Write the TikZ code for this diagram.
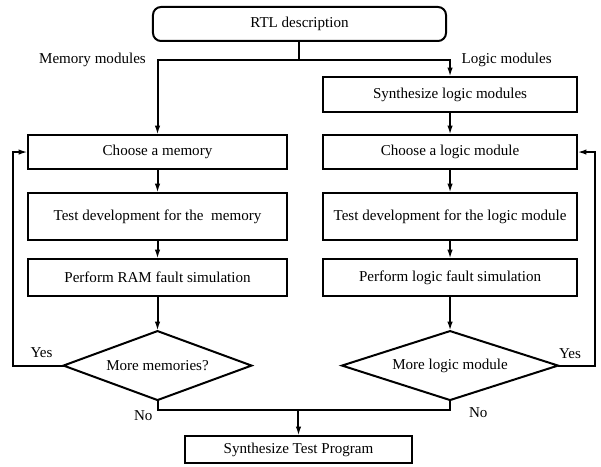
\documentclass[tikz,border=0pt]{standalone}
\usepackage{fontspec}
\setmainfont{Liberation Serif}
\usetikzlibrary{positioning,shapes.geometric,arrows.meta}

\begin{document}
\begin{tikzpicture}[
    font=\fontsize{11.3}{13}\selectfont,
    line width=1.5pt,
    >={Latex[length=7pt,width=4pt]},
    base/.style={rectangle,draw,inner sep=2pt,outer sep=0pt},
    roundbox/.style={base,rounded corners=6pt,minimum width=219.75pt,minimum height=25.5pt},
    leftbox/.style={base,minimum width=194.25pt},
    rightbox/.style={base,minimum width=190.5pt},
    decision/.style={diamond,draw,aspect=3,inner sep=1pt,outer sep=0pt,minimum height=51.75pt},
    lbl/.style={inner sep=2pt}
  ]
  \useasboundingbox (-224.6pt,18pt) rectangle (226.1pt,-331.5pt);

  \node(rtl) [roundbox] {RTL description};
  \coordinate[below=14.25pt of rtl.south] (split);

  % logic column
  \node(sl) [rightbox,minimum height=26.25pt] at (112.9pt,-52.9pt) {Synthesize logic modules};
  \node(cl) [rightbox,minimum height=25.5pt,below=17.25pt of sl] {Choose a logic module};
  \node(tl) [rightbox,minimum height=35.25pt,below=18pt of cl] {Test development for the logic module};
  \node(pl) [rightbox,minimum height=27.75pt,below=14.25pt of tl] {Perform logic fault simulation};
  \node(dl) [decision,minimum width=162pt,below=26.25pt of pl] {More logic module};

  % memory column
  \node(cm) [leftbox,minimum height=25.5pt,left=27pt of cl] {Choose a memory};
  \node(tm) [leftbox,minimum height=35.25pt,below=18pt of cm] {Test development for the\ \ memory};
  \node(pm) [leftbox,minimum height=27.75pt,below=14.25pt of tm] {Perform RAM fault simulation};
  \node(dm) [decision,minimum width=141pt,below=26.25pt of pm] {More memories?};

  \node(fin) [base,minimum width=170.25pt,minimum height=20.25pt] at (-0.75pt,-319.1pt) {Synthesize Test Program};
  \coordinate[above=19.5pt of fin.north] (merge);

  % branches from the description
  \draw (rtl.south) -- (split);
  \draw[->] (split) -| (cm.north);
  \draw[->] (split) -| (sl.north);
  \coordinate (mcorner) at (split -| cm.north);
  \coordinate (lcorner) at (split -| sl.north);
  \node(mm) [lbl,left=6pt of mcorner] {Memory modules};
  \node(lm) [lbl,right=6pt of lcorner] {Logic modules};

  \draw[->] (sl) -- (cl);
  \draw[->] (cl) -- (tl);
  \draw[->] (tl) -- (pl);
  \draw[->] (pl) -- (dl);

  \draw[->] (cm) -- (tm);
  \draw[->] (tm) -- (pm);
  \draw[->] (pm) -- (dm);

  % loops back
  \draw[->] (dm.west) -- ++(-37.5pt,0) |- (cm.west);
  \draw[->] (dl.east) -- ++(27.75pt,0) |- (cl.east);
  \node(ym) [lbl,above left=2.9pt and 5.5pt of dm.west] {Yes};
  \node(yl) [lbl,above right=2.5pt and -2pt of dl.east] {Yes};

  % merge to the test program
  \draw (dm.south) |- (merge);
  \draw (dl.south) |- (merge);
  \draw[->] (merge) -- (fin.north);
  \node(nm) [lbl,below left=5pt and 1pt of dm.south] {No};
  \node(nl) [lbl,below right=3.2pt and 11.5pt of dl.south] {No};

\end{tikzpicture}
\end{document}
